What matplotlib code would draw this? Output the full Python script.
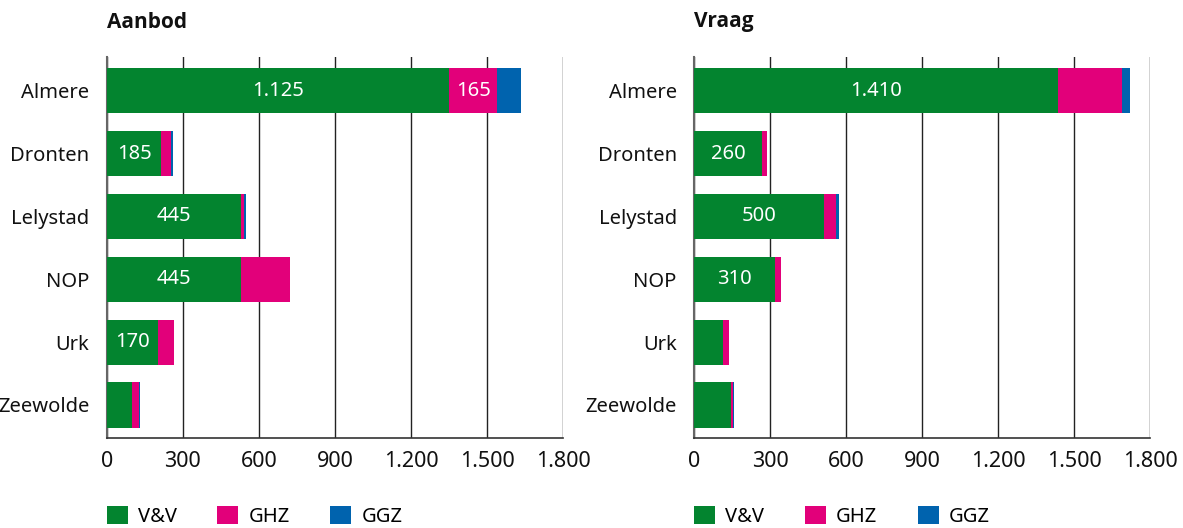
import matplotlib
matplotlib.use("Agg")
import matplotlib.pyplot as plt
from matplotlib.patches import Patch
from matplotlib.ticker import FuncFormatter

categories = ["Almere", "Dronten", "Lelystad", "NOP", "Urk", "Zeewolde"]
series_names = ["V&V", "GHZ", "GGZ"]
colors = ["#03842f", "#e2007a", "#0063ae"]

# Aanbod (supply) - bar lengths
aanbod_vv = [1350, 216, 528, 531, 204, 101]
aanbod_ghz = [190, 38, 12, 193, 63, 26]
aanbod_ggz = [92, 6, 10, 0, 0, 3]
aanbod_labels_vv = ["1.125", "185", "445", "445", "170", ""]
aanbod_labels_ghz = ["165", "", "", "", "", ""]

# Vraag (demand)
vraag_vv = [1436, 268, 514, 321, 116, 146]
vraag_ghz = [254, 19, 45, 22, 22, 6]
vraag_ggz = [30, 0, 12, 0, 0, 6]
vraag_labels_vv = ["1.410", "260", "500", "310", "", ""]
vraag_labels_ghz = ["", "", "", "", "", ""]

xticks = [0, 300, 600, 900, 1200, 1500, 1800]

FONT = "Noto Sans"
plt.rcParams["font.family"] = [FONT, "DejaVu Sans"]

W, H = 1183, 528
fig = plt.figure(figsize=(W / 100, H / 100), dpi=100)


def fx(px):
    return px / W


def fy(py):
    return 1 - py / H


def thousands(v, pos):
    return f"{int(v):,}".replace(",", ".")


AX_TOP, AX_BOT = 57, 438.3


def draw(ax, title, title_x, vv, ghz, ggz, lab_vv, lab_ghz):
    y = list(range(len(categories)))
    left = [0] * len(categories)
    segs = [vv, ghz, ggz]
    labs = [lab_vv, lab_ghz, None]
    for vals, col, lab in zip(segs, colors, labs):
        bars = ax.barh(y, vals, left=left, height=0.72, color=col, zorder=3)
        if lab is not None:
            ax.bar_label(bars, labels=lab, label_type="center", color="white",
                         fontsize=14.5, fontfamily=FONT)
        left = [a + b for a, b in zip(left, vals)]
    ax.set_yticks(y)
    ax.set_yticklabels(categories)
    ax.set_ylim(5.53, -0.538)
    ax.set_xlim(0, 1800)
    ax.set_xticks(xticks)
    ax.xaxis.set_major_formatter(FuncFormatter(thousands))
    ax.grid(axis="x", color="#222222", linewidth=1.0, zorder=0)
    ax.grid(axis="y", visible=False)
    for s in ["top", "right"]:
        ax.spines[s].set_visible(False)
    ax.spines["left"].set_color("#666666")
    ax.spines["left"].set_linewidth(1.5)
    ax.spines["bottom"].set_color("#333333")
    ax.spines["bottom"].set_linewidth(1.2)
    ax.tick_params(axis="x", length=0, pad=9, labelsize=15.5, colors="#111111")
    ax.tick_params(axis="y", length=0, pad=12.5, labelsize=14.5, colors="#111111")
    fig.text(fx(title_x), fy(22), title, fontsize=15, fontweight="bold",
             family=["Open Sans", "DejaVu Sans"],
             ha="left", va="center", color="#111111")
    handles = [Patch(facecolor=c, edgecolor="none") for c in colors]
    ax.legend(handles, series_names, loc="center left",
              bbox_to_anchor=(0, (AX_BOT - 516.5) / (AX_BOT - AX_TOP)),
              bbox_transform=ax.transAxes,
              ncol=3, frameon=False, fontsize=14.5, borderpad=0, borderaxespad=0,
              handlelength=1.04, handleheight=1.04, handletextpad=0.52,
              columnspacing=2.0)


ax1 = fig.add_axes([fx(106.7), fy(AX_BOT), fx(563.3 - 106.7), (AX_BOT - AX_TOP) / H])
ax2 = fig.add_axes([fx(694), fy(AX_BOT), fx(1150.3 - 694), (AX_BOT - AX_TOP) / H])

draw(ax1, "Aanbod", 106.7, aanbod_vv, aanbod_ghz, aanbod_ggz,
     aanbod_labels_vv, aanbod_labels_ghz)
draw(ax2, "Vraag", 694, vraag_vv, vraag_ghz, vraag_ggz,
     vraag_labels_vv, vraag_labels_ghz)

fig.savefig("out.png", dpi=100)
